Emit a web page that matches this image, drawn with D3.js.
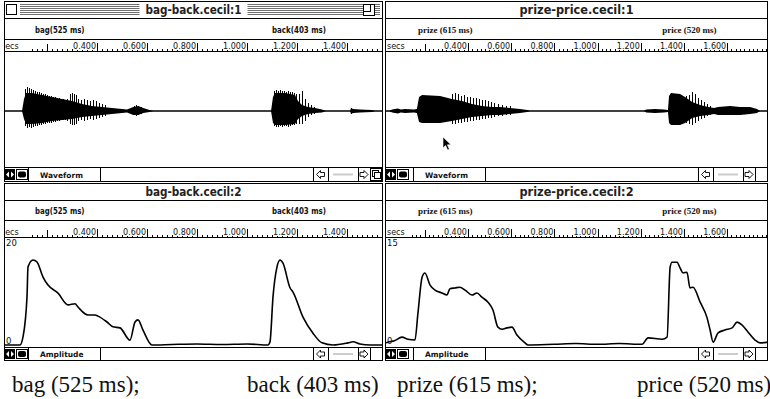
<!DOCTYPE html>
<html><head><meta charset="utf-8">
<script src="https://cdn.jsdelivr.net/npm/d3@7"></script>
<style>
html,body{margin:0;padding:0;background:#fff;}
svg{display:block;}
</style></head><body>
<svg id="fig" width="770" height="399"></svg>
<script>
// ---- window titles, word labels, captions ----
const windowTitles = [["bag-back.cecil:1", "bag-back.cecil:2"], ["prize-price.cecil:1", "prize-price.cecil:2"]];
const headerLabels = [["bag(525 ms)", "back(403 ms)"], ["prize (615 ms)", "price (520 ms)"]];
const headerLabelTimes = [[0.152, 1.100], [0.169, 1.299]];   // seconds, where each word label starts
const captionLabels = [["bag (525 ms);", "back (403 ms)"], ["prize (615 ms);", "price (520 ms)"]];
const panelNames = ["Waveform", "Amplitude"];

// ---- ruler ticks (seconds) ----
const rulerLabelTicks = [[0.4, 0.6, 0.8, 1.0, 1.2, 1.4], [0.4, 0.6, 0.8, 1.0, 1.2, 1.4, 1.6]];
const rulerPlainTicks = [[0.2], [0.2]];

// ---- amplitude envelopes: [time s, amplitude] ----
const ampMax = [20, 15];
const bagBackAmp = [
  [0.032,0],[0.092,0],[0.104,1.5],[0.120,9.0],[0.124,14.6],[0.144,15.9],[0.160,15.5],[0.184,12.7],
  [0.204,11.2],[0.244,9.7],[0.284,7.5],[0.312,7.7],[0.324,7.1],[0.364,5.6],[0.392,5.6],[0.404,5.4],
  [0.440,4.3],[0.464,3.4],[0.492,3.2],[0.532,0.9],[0.552,4.3],[0.564,4.7],[0.584,2.8],[0.620,0],
  [0.700,0.1],[0.800,0.2],[0.900,0.1],[1.000,0.2],[1.084,0],[1.092,0.6],[1.104,9.0],[1.120,14.6],
  [1.132,15.9],[1.144,15.3],[1.172,10.7],[1.184,9.9],[1.224,5.2],[1.264,2.2],[1.300,0.4],[1.344,0],
  [1.404,0.4],[1.424,0.6],[1.452,0.2],[1.492,0],[1.544,0]
];
const prizePriceAmp = [
  [0.021,0.3],[0.030,0.4],[0.060,0.6],[0.095,1.1],[0.123,0.8],[0.155,0.7],[0.169,4.5],[0.188,9.5],
  [0.201,10.1],[0.225,8.4],[0.248,7.7],[0.280,7.3],[0.303,7.0],[0.317,7.9],[0.340,8.0],[0.363,8.1],
  [0.387,7.7],[0.419,7.0],[0.442,7.3],[0.465,6.7],[0.493,6.0],[0.516,4.9],[0.539,2.5],[0.558,2.2],
  [0.581,2.4],[0.604,2.5],[0.627,1.4],[0.664,0.3],[0.678,0],[0.800,0.1],[0.900,0.2],[1.000,0.1],
  [1.100,0.2],[1.206,0.1],[1.234,1.0],[1.299,0.8],[1.322,1.1],[1.336,10.9],[1.345,11.6],[1.368,11.6],
  [1.382,10.8],[1.396,10.1],[1.414,10.2],[1.428,8.0],[1.442,8.1],[1.475,6.0],[1.507,3.8],[1.521,2.1],
  [1.535,0.4],[1.558,1.7],[1.590,2.1],[1.623,2.4],[1.646,3.2],[1.669,2.8],[1.697,1.8],[1.729,0.7],
  [1.752,0.3],[1.789,0.4]
];

// ---- waveform: solid envelope [time, +amp, -amp] and individual pulse peaks [time, +amp, -amp] ----
// amplitude in sample units, full scale +-60
const bagBackCore = [
  [0.100,0,0],[0.108,12,8],[0.116,18,13],[0.140,18,13],[0.180,16,12],[0.220,14,10],[0.260,12,9],
  [0.300,10,8],[0.340,7,6],[0.380,5,5],[0.420,4,4],[0.460,3,3],[0.500,2,2],[0.520,1.5,1.5],
  [0.545,4,4],[0.565,5,4],[0.585,3,2],[0.610,1,1],[0.625,0,0],
  [1.096,0,0],[1.104,14,12],[1.112,18,14],[1.152,18,14],[1.192,16,13],[1.204,10,8],[1.220,6,5],
  [1.244,4,3],[1.272,3,2],[1.300,1.5,1.5],[1.316,0,0],
  [1.412,0,0],[1.416,3,3],[1.424,2,2],[1.452,1.5,1.5],[1.500,1,1],[1.512,0,0]
];
const bagBackPulses = [
  [0.112,22,15],[0.120,24,17],[0.128,23,16],[0.136,22,17],[0.144,21,16],[0.152,20,15],[0.160,19,15],
  [0.168,19,14],[0.176,18,14],[0.184,17,13],[0.192,17,13],[0.200,16,12],[0.208,15,12],[0.216,15,12],
  [0.224,14,11],[0.232,14,11],[0.240,13,10],[0.248,13,10],[0.256,12,9],[0.264,12,9],[0.272,11,9],
  [0.280,12,10],[0.292,17,13],[0.300,18,14],[0.308,17,14],[0.316,16,13],[0.324,12,10],[0.336,11,9],
  [0.348,12,10],[0.360,11,9],[0.372,10,8],[0.384,11,9],[0.396,10,8],[0.408,8,7],[0.420,7,6],
  [0.432,6,5],[0.548,5,4],[0.556,6,5],[0.564,5,4],[0.576,4,3],
  [1.108,20,15],[1.116,21,16],[1.124,20,16],[1.132,21,15],[1.140,20,16],[1.148,20,15],[1.156,19,15],
  [1.164,20,16],[1.172,19,15],[1.180,19,14],[1.188,18,14],[1.196,17,13],[1.208,17,13],[1.220,20,13],
  [1.232,12,10],[1.244,8,6],[1.256,6,4],[1.268,4,3],[1.416,3,3],[1.424,2.5,2]
];
const prizePriceCore = [
  [0.035,0,0],[0.049,1.5,1.5],[0.076,2.5,2.5],[0.090,1.5,1.5],[0.109,2,2],[0.150,1.5,1.5],[0.164,2,2],
  [0.174,14,11],[0.188,16,12],[0.271,15,12],[0.326,12,10],[0.373,10,8],[0.419,7,6],[0.465,5,5],
  [0.512,4,4],[0.549,4,4],[0.595,3,3],[0.641,2,2],[0.674,1,1],[0.688,0,0],
  [1.215,0,0],[1.225,1.5,1.5],[1.266,2,2],[1.308,1.5,1.5],[1.326,1,1],[1.331,15,12],[1.340,18,14],
  [1.382,17,14],[1.405,14,12],[1.438,9,7],[1.475,6,5],[1.512,4,4],[1.539,3,3],[1.558,4,4],
  [1.613,5,4],[1.660,4,4],[1.706,4,3],[1.738,2,2],[1.752,0,0]
];
const prizePricePulses = [
  [0.326,17,13],[0.340,18,13],[0.354,17,12],[0.368,15,12],[0.382,16,11],[0.396,14,11],[0.410,14,10],
  [0.424,13,10],[0.438,13,9],[0.451,12,9],[0.465,11,8],[0.479,11,8],[0.493,10,7],[0.507,9,7],
  [0.521,8,6],[0.539,7,5],[0.558,6,5],[0.576,5,4],[0.595,5,4],
  [1.410,15,12],[1.424,16,13],[1.438,19,14],[1.451,17,12],[1.465,13,10],[1.479,11,8],[1.493,9,7],
  [1.507,7,5],[1.521,5,4]
];

const waveData = [[bagBackCore, bagBackPulses], [prizePriceCore, prizePricePulses]];
const ampData = [bagBackAmp, prizePriceAmp];

// ---- layout ----
const UI = "'DejaVu Sans', Verdana, sans-serif";
const SERIF = "'Liberation Serif', 'Times New Roman', serif";
const cols = [
  {x0: 4,   x1: 383, domain: [0.032, 1.544], active: true,  nameBox: [28, 100],  secsX: 1,   capX: [12, 247], headSerif: false},
  {x0: 385, x1: 768, domain: [0.021, 1.789], active: false, nameBox: [413, 485], secsX: 387, capX: [397, 637], headSerif: true}
];
const rows = [
  {top: 1,   title: 18,  label: 39,  ruler: 51,  plot: 167, bottom: 182},
  {top: 183, title: 200, label: 220, ruler: 237, plot: 347, bottom: 361}
];

const svg = d3.select('#fig');
const defs = svg.append('defs');
const px = v => Math.round(v) + 0.5;

cols.forEach((c, ci) => {
  const x = d3.scaleLinear().domain(c.domain).range([c.x0 + 1, c.x1]);
  rows.forEach((r, ri) => {
    const g = svg.append('g');
    const clipId = `clip-${ci}-${ri}`;
    defs.append('clipPath').attr('id', clipId)
      .append('rect').attr('x', c.x0 + 1).attr('y', r.top).attr('width', c.x1 - c.x0 - 1).attr('height', r.bottom - r.top);

    // window frame
    g.append('rect').attr('x', c.x0 + 0.5).attr('y', r.top + 0.5)
      .attr('width', c.x1 - c.x0 - 1).attr('height', r.bottom - r.top - 1)
      .attr('fill', '#fff').attr('stroke', '#000');
    [r.title, r.label, r.ruler, r.plot].forEach(yy => {
      g.append('line').attr('x1', c.x0).attr('x2', c.x1).attr('y1', yy + 0.5).attr('y2', yy + 0.5)
        .attr('stroke', '#000').attr('stroke-width', 1);
    });

    // title bar
    const active = c.active && ri === 0;
    const title = windowTitles[ci][ri];
    const tw = title.length * 6.0;
    const cx = (c.x0 + c.x1) / 2;
    if (active) {
      const stripes = g.append('g').attr('stroke', '#6e6e6e').attr('stroke-width', 1);
      for (let yy = r.top + 3; yy <= r.title - 3; yy += 2) {
        stripes.append('line').attr('x1', c.x0 + 16).attr('x2', c.x1 - 3).attr('y1', yy + 0.5).attr('y2', yy + 0.5);
      }
      g.append('rect').attr('x', cx - tw / 2 - 6).attr('y', r.top + 1).attr('width', tw + 12)
        .attr('height', r.title - r.top - 1).attr('fill', '#fff');
      g.append('rect').attr('x', c.x0 + 2.5).attr('y', r.top + 3.5).attr('width', 10).attr('height', 10)
        .attr('fill', '#fff').attr('stroke', '#000');
      g.append('rect').attr('x', c.x1 - 19.5).attr('y', r.top + 3.5).attr('width', 11).attr('height', 11)
        .attr('fill', '#fff').attr('stroke', '#000');
      g.append('rect').attr('x', c.x1 - 19.5).attr('y', r.top + 3.5).attr('width', 7).attr('height', 7)
        .attr('fill', 'none').attr('stroke', '#000');
    }
    g.append('text').attr('x', cx).attr('y', r.title - 4).attr('text-anchor', 'middle')
      .attr('font-family', UI).attr('font-weight', 'bold').attr('font-size', 11.5)
      .attr('textLength', tw).attr('lengthAdjust', 'spacingAndGlyphs')
      .attr('fill', '#222').text(title);

    // word labels row
    headerLabels[ci].forEach((lab, li) => {
      const t = g.append('text').attr('x', x(headerLabelTimes[ci][li])).attr('y', r.label - 6)
        .attr('font-size', 9).attr('fill', '#111').text(lab);
      if (c.headSerif) t.attr('font-family', SERIF).attr('font-weight', 'bold');
      else t.attr('font-family', UI).attr('font-weight', 'bold')
            .attr('textLength', lab.length * 4.5).attr('lengthAdjust', 'spacingAndGlyphs');
    });

    // ruler
    const rg = g.append('g').attr('clip-path', `url(#${clipId})`);
    const rb = r.ruler;
    rg.append('text').attr('x', c.secsX).attr('y', rb - 2).attr('font-family', UI)
      .attr('font-size', 8).attr('fill', '#111').text('secs');
    const minor = d3.range(Math.ceil(c.domain[0] / 0.02) * 0.02, c.domain[1], 0.02)
      .filter(t => x(t) > c.x0 + 24);
    rg.selectAll('.mn').data(minor).join('line')
      .attr('x1', d => px(x(d))).attr('x2', d => px(x(d)))
      .attr('y1', rb - 2).attr('y2', rb).attr('stroke', '#000').attr('stroke-width', 1);
    rg.selectAll('.pt').data(rulerPlainTicks[ci]).join('line')
      .attr('x1', d => px(x(d))).attr('x2', d => px(x(d)))
      .attr('y1', rb - 7).attr('y2', rb).attr('stroke', '#000');
    const lt = rg.selectAll('.lt').data(rulerLabelTicks[ci]).join('g');
    lt.append('line')
      .attr('x1', d => px(x(d))).attr('x2', d => px(x(d)))
      .attr('y1', rb - 8).attr('y2', rb).attr('stroke', '#000');
    lt.append('rect').attr('x', d => x(d) - 24).attr('y', rb - 10).attr('width', 23).attr('height', 9).attr('fill', '#fff');
    lt.append('text').attr('x', d => x(d) - 1).attr('y', rb - 2).attr('text-anchor', 'end')
      .attr('font-family', UI).attr('font-size', 8).attr('fill', '#111')
      .text(d => d3.format('.3f')(d));

    // plot area
    const pg = g.append('g').attr('clip-path', `url(#${clipId})`);
    if (ri === 0) {
      const y = d3.scaleLinear().domain([-60, 60]).range([r.plot + 4, r.ruler]);
      pg.append('line').attr('x1', c.x0).attr('x2', c.x1).attr('y1', y(0)).attr('y2', y(0))
        .attr('stroke', '#000').attr('stroke-width', 1.5);
      const [core, pulses] = waveData[ci];
      pg.append('path').datum(core)
        .attr('d', d3.area().x(d => x(d[0])).y0(d => y(-d[2])).y1(d => y(d[1])))
        .attr('fill', '#000');
      pg.selectAll('.pl').data(pulses).join('line')
        .attr('x1', d => px(x(d[0]))).attr('x2', d => px(x(d[0])))
        .attr('y1', d => y(-d[2])).attr('y2', d => y(d[1]))
        .attr('stroke', '#000').attr('stroke-width', 1).attr('shape-rendering', 'crispEdges');
    } else {
      const y = d3.scaleLinear().domain([0, ampMax[ci]]).range([r.plot - 2, r.ruler + 1]);
      pg.append('text').attr('x', c.x0 + 2).attr('y', r.ruler + 9).attr('font-family', UI)
        .attr('font-size', 8.5).attr('fill', '#111').text(ampMax[ci]);
      pg.append('text').attr('x', c.x0 + 2).attr('y', r.plot - 3).attr('font-family', UI)
        .attr('font-size', 8.5).attr('fill', '#111').text('0');
      pg.append('path').datum(ampData[ci])
        .attr('d', d3.line().x(d => x(d[0])).y(d => y(d[1])).curve(d3.curveMonotoneX))
        .attr('fill', 'none').attr('stroke', '#000').attr('stroke-width', 1.6)
        .attr('stroke-linejoin', 'round');
    }

    // status bar
    const sy = r.plot, sh = r.bottom - r.plot;
    const mid = sy + sh / 2;
    const sg = g.append('g');
    sg.append('rect').attr('x', c.x0 + 1).attr('y', sy + 2).attr('width', 10).attr('height', sh - 4).attr('fill', '#000');
    sg.append('path').attr('fill', '#fff')
      .attr('d', `M${c.x0 + 2},${mid} l3,-3 v6 Z M${c.x0 + 10},${mid} l-3,-3 v6 Z`);
    sg.append('rect').attr('x', c.x0 + 12.5).attr('y', sy + 2.5).attr('width', 11).attr('height', sh - 5)
      .attr('fill', '#fff').attr('stroke', '#000');
    sg.append('rect').attr('x', c.x0 + 14).attr('y', mid - 3).attr('width', 8).attr('height', 6)
      .attr('rx', 2).attr('fill', '#000');
    sg.append('rect').attr('x', c.nameBox[0] + 0.5).attr('y', sy + 0.5)
      .attr('width', c.nameBox[1] - c.nameBox[0]).attr('height', sh - 1).attr('fill', '#fff').attr('stroke', '#000');
    sg.append('text').attr('x', c.nameBox[0] + 12).attr('y', mid + 3).attr('font-family', UI)
      .attr('font-weight', 'bold').attr('font-size', 7.5).attr('fill', '#111').text(panelNames[ri]);
    sg.append('rect').attr('x', c.nameBox[1] + 0.5).attr('y', sy + 0.5)
      .attr('width', c.x1 - 70 - c.nameBox[1]).attr('height', sh - 1).attr('fill', '#fff').attr('stroke', '#000');
    const arrowBox = (bx, bw, dir) => {
      sg.append('rect').attr('x', bx + 0.5).attr('y', sy + 0.5).attr('width', bw).attr('height', sh - 1)
        .attr('fill', '#fff').attr('stroke', '#000');
      const ax = bx + bw / 2;
      const s = dir;
      sg.append('path').attr('fill', '#fff').attr('stroke', '#000').attr('stroke-width', 0.9)
        .attr('d', `M${ax - 4 * s},${mid} L${ax},${mid - 4} L${ax},${mid - 2} L${ax + 4 * s},${mid - 2} L${ax + 4 * s},${mid + 2} L${ax},${mid + 2} L${ax},${mid + 4} Z`);
    };
    arrowBox(c.x1 - 70, 15, 1);
    sg.append('line').attr('x1', c.x1 - 50).attr('x2', c.x1 - 30).attr('y1', mid).attr('y2', mid)
      .attr('stroke', '#ccc').attr('stroke-width', 2);
    arrowBox(c.x1 - 25, 12, -1);
    if (active) {
      sg.append('rect').attr('x', c.x1 - 12.5).attr('y', sy + 1.5).attr('width', 11).attr('height', sh - 3)
        .attr('fill', '#fff').attr('stroke', '#000');
      sg.append('rect').attr('x', c.x1 - 10.5).attr('y', sy + 3.5).attr('width', 6).attr('height', 6)
        .attr('fill', 'none').attr('stroke', '#000');
      sg.append('rect').attr('x', c.x1 - 8.5).attr('y', sy + 5.5).attr('width', 6).attr('height', 6)
        .attr('fill', '#fff').attr('stroke', '#000');
    }
  });

  // captions under the windows
  captionLabels[ci].forEach((lab, li) => {
    svg.append('text').attr('x', c.capX[li]).attr('y', 392)
      .attr('font-family', SERIF).attr('font-size', 23).attr('fill', '#111').text(lab);
  });
});

// mouse pointer resting in the prize-price waveform
svg.append('path')
  .attr('transform', 'translate(443,137)')
  .attr('d', 'M0,0 L0,11 L2.6,8.4 L4.6,13 L6.4,12.2 L4.4,7.8 L8,7.8 Z')
  .attr('fill', '#000').attr('stroke', '#fff').attr('stroke-width', 0.6);
</script>
</body></html>
